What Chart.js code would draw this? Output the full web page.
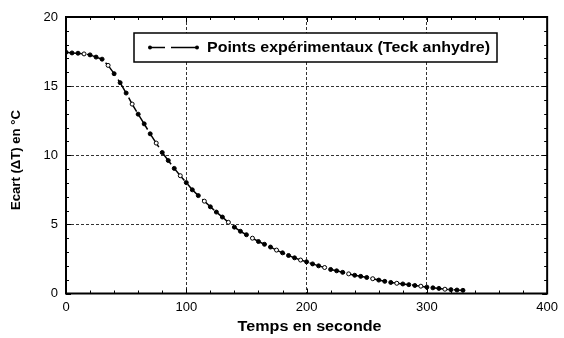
<!DOCTYPE html>
<html>
<head>
<meta charset="utf-8">
<script src="https://cdn.jsdelivr.net/npm/chart.js@4.4.1/dist/chart.umd.min.js"></script>
<style>
  html, body { margin: 0; padding: 0; background: #fff; }
  #wrap { width: 564px; height: 338px; }
</style>
</head>
<body>
<div id="wrap"><canvas id="chart"></canvas></div>
<script>
const temps = [
  0, 5, 10, 15, 20, 25, 30, 35, 40, 45, 50, 55, 60, 65, 70, 75, 80, 85, 90, 95,
  100, 105, 110, 115, 120, 125, 130, 135, 140, 145, 150, 155, 160, 165, 170, 175,
  180, 185, 190, 195, 200, 205, 210, 215, 220, 225, 230, 235, 240, 245, 250, 255,
  260, 265, 270, 275, 280, 285, 290, 295, 300, 305, 310, 315, 320, 325, 330,
];
const ecart = [
  17.45, 17.40, 17.38, 17.33, 17.26, 17.10, 16.95, 16.50, 15.90, 15.25, 14.50, 13.70,
  12.97, 12.27, 11.55, 10.88, 10.20, 9.62, 9.05, 8.52,
  8.02, 7.50, 7.08, 6.68, 6.27, 5.89, 5.53, 5.15, 4.80, 4.50, 4.25, 4.00, 3.76, 3.56, 3.36, 3.14,
  2.94, 2.75, 2.58, 2.42, 2.29, 2.14, 2.00, 1.88, 1.74, 1.64, 1.53, 1.42, 1.32, 1.24, 1.16, 1.07,
  0.97, 0.88, 0.80, 0.74, 0.69, 0.64, 0.58, 0.53, 0.46, 0.41, 0.37, 0.31, 0.28, 0.25, 0.23,
];
const xTicks = [0, 100, 200, 300, 400];
const yTicks = [0, 5, 10, 15, 20];
const legende = 'Points expérimentaux (Teck anhydre)';
const titreX = 'Temps en seconde';
const titreY = 'Ecart (ΔT) en °C';

const FONT = "'Liberation Sans', Arial, Helvetica, sans-serif";

// Texte étiré pour occuper une largeur donnée (le graphique d'origine est élargi)
function texteEtire(ctx, txt, cx, cy, largeur, font, angle) {
  ctx.save();
  ctx.font = font;
  ctx.fillStyle = '#000';
  ctx.textAlign = 'center';
  ctx.textBaseline = 'middle';
  const w = ctx.measureText(txt).width;
  ctx.translate(cx, cy);
  if (angle) ctx.rotate(angle);
  ctx.scale(largeur / w, 1);
  ctx.fillText(txt, 0, 0);
  ctx.restore();
}

// Cadre noir + petites graduations tournées vers l'intérieur, sur les 4 côtés
const cadre = {
  id: 'cadre',
  afterDatasetsDraw(chart) {
    const { ctx, chartArea: a, scales: { x, y } } = chart;
    ctx.save();
    ctx.strokeStyle = '#000';
    ctx.lineWidth = 1;
    ctx.beginPath();
    for (let v = 0; v <= 400; v += 20) {
      const px = Math.round(x.getPixelForValue(v)) + 0.5;
      const len = v % 100 === 0 ? 5 : 3;
      ctx.moveTo(px, a.bottom); ctx.lineTo(px, a.bottom - len);
      ctx.moveTo(px, a.top); ctx.lineTo(px, a.top + len);
    }
    for (let v = 0; v <= 20; v += 1) {
      const py = Math.round(y.getPixelForValue(v)) + 0.5;
      const len = v % 5 === 0 ? 5 : 3;
      ctx.moveTo(a.left, py); ctx.lineTo(a.left + len, py);
      ctx.moveTo(a.right, py); ctx.lineTo(a.right - len, py);
    }
    ctx.stroke();
    ctx.lineWidth = 2;
    ctx.strokeRect(a.left, a.top, a.right - a.left, a.bottom - a.top);
    ctx.restore();
  },
};

// Titres des axes + légende encadrée
const habillage = {
  id: 'habillage',
  afterDraw(chart) {
    const { ctx, chartArea: a } = chart;
    texteEtire(ctx, titreX, (a.left + a.right) / 2 + 3, 327, 144, 'bold 14px ' + FONT, 0);
    texteEtire(ctx, titreY, 17, 160, 100, 'bold 12px ' + FONT, -Math.PI / 2);

    const bx = 134, by = 33, bw = 363, bh = 29;
    ctx.save();
    ctx.fillStyle = '#fff';
    ctx.fillRect(bx, by, bw, bh);
    ctx.strokeStyle = '#000';
    ctx.lineWidth = 1.5;
    ctx.strokeRect(bx, by, bw, bh);
    const ly = by + bh / 2;
    ctx.beginPath();
    ctx.moveTo(150, ly); ctx.lineTo(165, ly);
    ctx.moveTo(171, ly); ctx.lineTo(197, ly);
    ctx.stroke();
    ctx.fillStyle = '#000';
    [150, 197].forEach((px) => {
      ctx.beginPath(); ctx.arc(px, ly, 2, 0, Math.PI * 2); ctx.fill();
    });
    ctx.restore();
    texteEtire(ctx, legende, 207 + 283 / 2, ly + 0.5, 283, 'bold 14px ' + FONT, 0);
  },
};

const gridColor = (max) => (c) => (c.tick && (c.tick.value === 0 || c.tick.value === max) ? 'rgba(0,0,0,0)' : '#333');

new Chart(document.getElementById('chart'), {
  type: 'line',
  data: {
    datasets: [{
      label: legende,
      data: temps.map((t, i) => ({ x: t, y: ecart[i] })),
      borderColor: '#000',
      borderWidth: 1.5,
      borderDash: [16, 5],
      pointRadius: 2,
      pointBorderWidth: 1,
      pointBorderColor: '#000',
      pointBackgroundColor: (c) => (c.dataIndex % 4 === 3 ? '#fff' : '#000'),
      tension: 0,
      fill: false,
    }],
  },
  options: {
    responsive: true, maintainAspectRatio: false, animation: false,
    layout: { padding: { left: 0, right: 12, top: 17, bottom: 0 } },
    scales: {
      x: {
        type: 'linear', min: 0, max: 400,
        afterBuildTicks: (s) => { s.ticks = xTicks.map((v) => ({ value: v })); },
        afterFit: (s) => { s.height = 44.5; },
        grid: { color: gridColor(400), lineWidth: 1, drawTicks: false },
        border: { display: false, dash: [3, 2] },
        ticks: { color: '#000', font: { family: FONT, size: 13 }, padding: 6, maxRotation: 0 },
        title: { display: false, text: titreX },
      },
      y: {
        type: 'linear', min: 0, max: 20,
        afterBuildTicks: (s) => { s.ticks = yTicks.map((v) => ({ value: v })); },
        afterFit: (s) => { s.width = 66; },
        grid: { color: gridColor(20), lineWidth: 1, drawTicks: false },
        border: { display: false, dash: [3, 2] },
        ticks: { color: '#000', font: { family: FONT, size: 13 }, padding: 8 },
        title: { display: false, text: titreY },
      },
    },
    plugins: { legend: { display: false }, tooltip: { enabled: false } },
  },
  plugins: [cadre, habillage],
});
</script>
</body>
</html>
